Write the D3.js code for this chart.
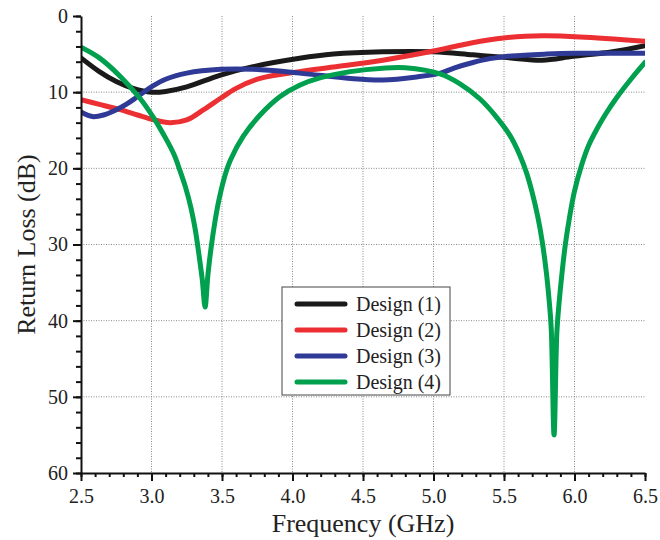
<!DOCTYPE html>
<html>
<head>
<meta charset="utf-8">
<script src="https://cdn.jsdelivr.net/npm/d3@7"></script>
<style>
  body { margin: 0; background: #fff; }
  svg { display: block; font-family: "Liberation Serif", "Times New Roman", serif; }
</style>
</head>
<body>
<svg width="660" height="540"></svg>
<script>
// frequency points (GHz) and return loss (dB)
const freq1 = [2.5, 2.63, 2.75, 2.87, 3.0, 3.1, 3.25, 3.49, 3.72, 4.05, 4.29, 4.64, 5.0, 5.28, 5.55, 5.77, 5.99, 6.27, 6.5];
const loss1 = [5.5, 7.3, 8.6, 9.5, 10.0, 9.9, 9.3, 7.75, 6.65, 5.55, 5.0, 4.7, 4.7, 5.1, 5.5, 5.8, 5.3, 4.7, 3.9];

const freq2 = [2.5, 2.63, 2.777, 2.9, 3.01, 3.13, 3.25, 3.37, 3.49, 3.6, 3.77, 4.05, 4.29, 4.64, 5.0, 5.2, 5.45, 5.65, 5.8, 6.04, 6.5];
const loss2 = [11.0, 11.6, 12.3, 13.0, 13.6, 14.0, 13.65, 12.3, 10.8, 9.5, 8.2, 7.3, 6.7, 5.8, 4.6, 3.8, 3.0, 2.65, 2.6, 2.75, 3.3];

const freq3 = [2.5, 2.58, 2.66, 2.74, 2.82, 2.9, 3.0, 3.1, 3.25, 3.49, 3.72, 4.05, 4.41, 4.64, 4.88, 5.05, 5.15, 5.28, 5.4, 5.55, 5.8, 6.0, 6.5];
const loss3 = [12.6, 13.2, 13.0, 12.4, 11.6, 10.6, 9.3, 8.3, 7.5, 7.0, 7.0, 7.5, 8.2, 8.4, 8.0, 7.5, 6.8, 6.1, 5.6, 5.25, 5.0, 4.9, 4.9];

const freq4 = [2.5, 2.63, 2.777, 2.918, 3.013, 3.108, 3.16, 3.2, 3.24, 3.28, 3.31, 3.34, 3.36, 3.38, 3.40, 3.42, 3.45, 3.48, 3.52, 3.56, 3.65, 3.77, 3.91, 4.05, 4.2, 4.41, 4.64, 4.8, 5.046, 5.188, 5.33, 5.448, 5.543, 5.613, 5.66, 5.70, 5.74, 5.77, 5.80, 5.82, 5.835, 5.855, 5.875, 5.89, 5.91, 5.935, 5.965, 6.0, 6.05, 6.1, 6.157, 6.22, 6.3, 6.4, 6.5];
const loss4 = [4.1, 5.5, 7.9, 10.8, 13.3, 16.3, 18.2, 20.2, 22.4, 25.2, 28.0, 31.8, 34.6, 38.2, 34.0, 30.8, 27.0, 24.0, 21.0, 18.9, 15.8, 13.0, 10.6, 9.1, 8.1, 7.3, 6.85, 6.8, 7.6, 8.9, 10.9, 13.3, 15.7, 18.3, 20.6, 23.2, 26.4, 29.5, 33.6, 37.3, 41.0, 55.0, 41.5, 37.8, 34.0, 30.0, 26.4, 23.0, 19.6, 17.0, 14.9, 12.9, 10.7, 8.3, 6.1];

const seriesNames = ["Design (1)", "Design (2)", "Design (3)", "Design (4)"];
const seriesColors = ["#1a1a1a", "#ec2f32", "#2f3a96", "#00a04e"];

const xTicks = [2.5, 3.0, 3.5, 4.0, 4.5, 5.0, 5.5, 6.0, 6.5];
const yTicks = [0, 10, 20, 30, 40, 50, 60];

const series = [[freq1, loss1], [freq2, loss2], [freq3, loss3], [freq4, loss4]]
  .map(([f, l], i) => ({ name: seriesNames[i], color: seriesColors[i], values: f.map((d, j) => [d, l[j]]) }));

const svg = d3.select("svg");
const plotLeft = 81, plotRight = 645, plotTop = 16, plotBottom = 473;
const serif = "'Liberation Serif', 'Times New Roman', serif";

const x = d3.scaleLinear().domain([2.5, 6.5]).range([plotLeft, plotRight]);
const y = d3.scaleLinear().domain([0, 60]).range([plotTop, plotBottom]);

// dotted grid at the inner major ticks
const grid = svg.append("g").attr("stroke", "#8a8a8a").attr("stroke-width", 1).attr("stroke-dasharray", "1,1.5");
grid.selectAll("line.v").data(xTicks.slice(1, -1)).enter().append("line")
  .attr("x1", d => x(d)).attr("x2", d => x(d)).attr("y1", plotTop).attr("y2", plotBottom);
grid.selectAll("line.h").data(yTicks.slice(1, -1)).enter().append("line")
  .attr("x1", plotLeft).attr("x2", plotRight).attr("y1", d => y(d)).attr("y2", d => y(d));

svg.append("clipPath").attr("id", "plot")
  .append("rect").attr("x", plotLeft).attr("y", plotTop - 4).attr("width", plotRight - plotLeft).attr("height", plotBottom - plotTop + 4);

const line = d3.line().x(d => x(d[0])).y(d => y(d[1])).curve(d3.curveCatmullRom.alpha(0.5));

svg.append("g").attr("clip-path", "url(#plot)")
  .selectAll("path").data(series).enter().append("path")
  .attr("d", d => line(d.values))
  .attr("fill", "none")
  .attr("stroke", d => d.color)
  .attr("stroke-width", 5)
  .attr("stroke-linejoin", "round")
  .attr("stroke-linecap", "round");

// axes: minor ticks first, then majors with labels
const xMinor = d3.range(25, 66).map(d => d / 10);
const yMinor = d3.range(0, 61, 2);

svg.append("g").attr("transform", `translate(0,${plotBottom})`)
  .call(d3.axisBottom(x).tickValues(xMinor).tickSize(4).tickFormat(""))
  .call(g => g.select(".domain").remove());
svg.append("g").attr("transform", `translate(${plotLeft},0)`)
  .call(d3.axisLeft(y).tickValues(yMinor).tickSize(5).tickFormat(""))
  .call(g => g.select(".domain").remove());

const xAxis = svg.append("g").attr("transform", `translate(0,${plotBottom})`)
  .call(d3.axisBottom(x).tickValues(xTicks).tickSize(8).tickSizeOuter(0).tickPadding(8).tickFormat(d3.format(".1f")));
const yAxis = svg.append("g").attr("transform", `translate(${plotLeft},0)`)
  .call(d3.axisLeft(y).tickValues(yTicks).tickSize(8).tickSizeOuter(0).tickPadding(5));

[xAxis, yAxis].forEach(g => {
  g.attr("font-family", serif).attr("font-size", 20);
  g.selectAll("text").attr("fill", "#222").attr("font-family", serif);
  g.selectAll("line, path").attr("stroke", "#111").attr("stroke-width", 2);
});
svg.selectAll("g.tick line").attr("stroke", "#111").attr("stroke-width", 2);

svg.append("text")
  .attr("x", (plotLeft + plotRight) / 2).attr("y", 532)
  .attr("text-anchor", "middle").attr("font-size", 26).attr("fill", "#222")
  .text("Frequency (GHz)");

svg.append("text")
  .attr("transform", `translate(35,${(plotTop + plotBottom) / 2}) rotate(-90)`)
  .attr("text-anchor", "middle").attr("font-size", 26).attr("fill", "#222")
  .text("Return Loss (dB)");

// legend box
const legend = svg.append("g");
legend.append("rect")
  .attr("x", 282).attr("y", 287).attr("width", 168).attr("height", 108)
  .attr("fill", "#fff").attr("stroke", "#444").attr("stroke-width", 1);

const rows = legend.selectAll("g.row").data(series).enter().append("g")
  .attr("transform", (d, i) => `translate(0,${304 + i * 26})`);
rows.append("line")
  .attr("x1", 297).attr("x2", 345)
  .attr("stroke", d => d.color).attr("stroke-width", 5).attr("stroke-linecap", "round");
rows.append("text")
  .attr("x", 356).attr("dy", "0.35em")
  .attr("font-size", 20).attr("fill", "#222")
  .text(d => d.name);
</script>
</body>
</html>
